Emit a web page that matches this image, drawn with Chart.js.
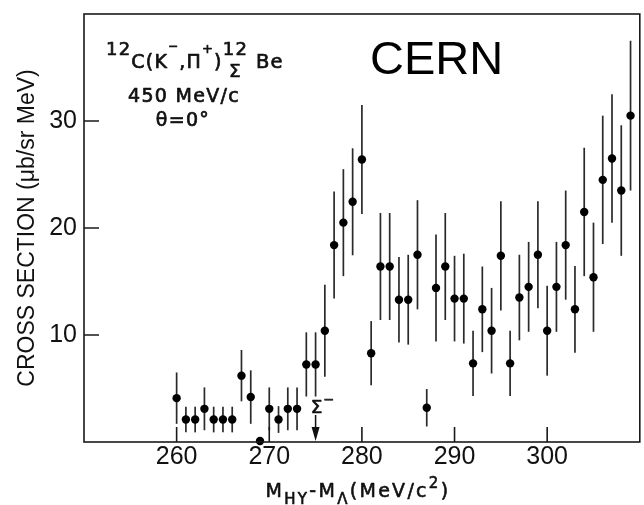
<!DOCTYPE html>
<html><head><meta charset="utf-8">
<script src="https://cdn.jsdelivr.net/npm/chart.js@4.4.1/dist/chart.umd.min.js"></script>
<style>html,body{margin:0;padding:0;background:#fff}canvas{display:block}</style>
</head><body>
<canvas id="c" width="644" height="505"></canvas>
<script>
// ---- data ----
const massDiff = [260,261,262,263,264,265,266,267,268,269,
                  270,271,272,273,274,275,276,277,278,279,
                  280,281,282,283,284,285,286,287,288,289,
                  290,291,292,293,294,295,296,297,298,299,
                  300,301,302,303,304,305,306,307,308,309];
const crossSection = [4.1,2.1,2.1,3.1,2.1,2.1,2.1,6.2,4.2,0.1,
                      3.1,2.1,3.1,3.1,7.25,7.25,10.4,18.4,20.5,22.45,
                      26.4,8.3,16.4,16.4,13.3,13.3,17.5,3.2,14.4,16.4,
                      13.4,13.4,7.35,12.4,10.4,17.4,7.35,13.5,14.5,17.5,
                      10.4,14.5,18.4,12.4,21.5,15.4,24.5,26.5,23.5,30.5];
const crossSectionErr = [2.4,1.2,1.2,2.0,1.2,1.2,1.2,2.4,2.5,0,
                         2.0,1.25,2.0,2.0,3.0,3.0,4.3,5.0,5.0,5.0,
                         5.1,3.0,5.0,5.0,4.0,4.2,5.1,1.75,5.0,5.0,
                         4.0,4.2,3.05,4.0,4.0,5.1,3.05,4.0,4.2,5.0,
                         4.2,4.2,5.1,4.05,6.0,5.1,6.0,6.0,6.1,7.0];
const xTickValues = [260,270,280,290,300];
const yTickValues = [10,20,30];
const xRange = [250,310];
const yRange = [0,40];
const sigmaThreshold = 275;

const FONT = "'Liberation Sans', Arial, sans-serif";
const ANN = "'DejaVu Sans', sans-serif";
const INK = '#111';

function putText(ctx, t, x, y) {
  ctx.fillText(t, x, y);
  ctx.strokeText(t, x, y);
}

function runText(ctx, parts, x, y, draw) {
  let cx = x;
  for (const p of parts) {
    if (p.stack) {
      let w = 0;
      for (const s of p.stack) {
        ctx.font = s.size + 'px ' + (s.family || ANN);
        w = Math.max(w, ctx.measureText(s.t).width);
      }
      if (draw) for (const s of p.stack) {
        ctx.font = s.size + 'px ' + (s.family || ANN);
        const sw = ctx.measureText(s.t).width;
        putText(ctx, s.t, cx + (w - sw) / 2, y + (s.dy || 0));
      }
      cx += w + (p.gap || 0);
    } else {
      ctx.font = p.size + 'px ' + (p.family || ANN);
      if (draw) putText(ctx, p.t, cx, y + (p.dy || 0));
      cx += ctx.measureText(p.t).width + (p.gap || 0);
    }
  }
  return cx - x;
}

const decor = {
  id: 'decor',
  beforeDatasetsDraw(chart) {
    const {ctx, scales: {x, y}} = chart;
    ctx.save();
    ctx.strokeStyle = '#2a2a2a';
    ctx.lineWidth = 1.7;
    massDiff.forEach((m, i) => {
      const e = crossSectionErr[i];
      if (!e) return;
      const px = x.getPixelForValue(m);
      const lo = Math.max(crossSection[i] - e, yRange[0]);
      ctx.beginPath();
      ctx.moveTo(px, y.getPixelForValue(lo));
      ctx.lineTo(px, y.getPixelForValue(crossSection[i] + e));
      ctx.stroke();
    });
    ctx.restore();
  },
  afterDraw(chart) {
    const {ctx, chartArea: a, scales: {x, y}} = chart;
    ctx.save();
    // frame
    ctx.strokeStyle = '#1a1a1a';
    ctx.lineWidth = 1.6;
    ctx.strokeRect(a.left, a.top, a.right - a.left, a.bottom - a.top);
    // inward ticks
    ctx.beginPath();
    xTickValues.forEach(v => { const p = x.getPixelForValue(v); ctx.moveTo(p, a.bottom); ctx.lineTo(p, a.bottom - 15); });
    yTickValues.forEach(v => { const p = y.getPixelForValue(v); ctx.moveTo(a.left, p); ctx.lineTo(a.left + 15, p); });
    ctx.stroke();

    ctx.textBaseline = 'alphabetic';
    ctx.textAlign = 'left';

    // CERN label
    ctx.font = '47px ' + FONT;
    ctx.fillStyle = '#000';
    ctx.fillText('CERN', 370, 74);

    ctx.fillStyle = INK;
    ctx.strokeStyle = INK;
    ctx.lineWidth = 0.7;
    ctx.lineJoin = 'round';

    // reaction annotation
    ctx.letterSpacing = '1.2px';
    runText(ctx, [
      {t: '12', size: 18, dy: -13},
      {t: 'C(K', size: 19},
      {t: '\u2212', size: 12, dy: -18},
      {t: ',\u03A0', size: 19},
      {t: '+', size: 13, dy: -15},
      {t: ')', size: 19},
      {stack: [{t: '12', size: 18, dy: -13}, {t: '\u03A3', size: 18.5, dy: 9}], gap: 8},
      {t: 'Be', size: 19.5}
    ], 106, 68, true);
    ctx.letterSpacing = '1.3px';
    ctx.textAlign = 'center';
    ctx.font = '19px ' + ANN;
    putText(ctx, '450 MeV/c', 184, 101.5);
    putText(ctx, '\u03B8=0\u00B0', 183, 126);

    // Sigma threshold marker
    const sx = x.getPixelForValue(sigmaThreshold);
    ctx.letterSpacing = '0px';
    ctx.textAlign = 'left';
    ctx.font = '18.5px ' + ANN;
    const sw = ctx.measureText('\u03A3').width;
    putText(ctx, '\u03A3', sx + 1 - sw / 2, 413);
    ctx.font = '13px ' + ANN;
    putText(ctx, '\u2212', sx + 1 + sw / 2 + 1, 404);
    ctx.lineWidth = 1.5;
    ctx.beginPath();
    ctx.moveTo(sx, 415); ctx.lineTo(sx, 430);
    ctx.stroke();
    ctx.beginPath();
    ctx.moveTo(sx - 4, 427); ctx.lineTo(sx + 4, 427); ctx.lineTo(sx, a.bottom - 1); ctx.closePath();
    ctx.fill();

    // x-axis title with sub/superscripts
    ctx.lineWidth = 0.6;
    ctx.letterSpacing = '2.3px';
    const parts = [
      {t: 'M', size: 19},
      {t: 'HY', size: 15, dy: 7},
      {t: '-', size: 19},
      {t: 'M', size: 19},
      {t: '\u039B', size: 15, dy: 7},
      {t: '(MeV/c', size: 19},
      {t: '2', size: 15, dy: -9},
      {t: ')', size: 19}
    ];
    const tw = runText(ctx, parts, 0, 0, false);
    runText(ctx, parts, 358 - tw / 2, 496.5, true);
    ctx.restore();
  }
};

new Chart(document.getElementById('c'), {
  type: 'scatter',
  data: {
    datasets: [{
      data: massDiff.map((m, i) => ({x: m, y: crossSection[i]})),
      backgroundColor: '#000',
      borderColor: '#000',
      pointRadius: 4.2,
      pointBorderWidth: 0,
      clip: false
    }]
  },
  options: {
    responsive: false,
    animation: false,
    devicePixelRatio: 1,
    layout: {padding: {top: 14, right: 1, left: 0, bottom: 0}},
    plugins: {legend: {display: false}, tooltip: {enabled: false}},
    scales: {
      x: {
        type: 'linear', min: xRange[0], max: xRange[1],
        afterFit(s) { s.height = 63; s.paddingLeft = 0; s.paddingRight = 0; },
        grid: {display: false, drawTicks: false},
        border: {display: false},
        ticks: {
          stepSize: 10, autoSkip: false, maxRotation: 0, padding: 0,
          color: INK, font: {family: FONT, size: 25},
          callback: v => xTickValues.includes(v) ? String(v) : ''
        }
      },
      y: {
        type: 'linear', min: yRange[0], max: yRange[1],
        afterFit(s) { s.width = 84; s.paddingTop = 0; s.paddingBottom = 0; },
        grid: {display: false, drawTicks: false},
        border: {display: false},
        ticks: {
          stepSize: 10, autoSkip: false, padding: 7,
          color: INK, font: {family: FONT, size: 25},
          callback: v => yTickValues.includes(v) ? String(v) : ''
        },
        title: {
          display: true, text: 'CROSS SECTION (\u03BCb/sr MeV)',
          color: INK, font: {family: FONT, size: 23}, padding: {top: 14, bottom: 0}
        }
      }
    }
  },
  plugins: [decor]
});
</script>
</body></html>
